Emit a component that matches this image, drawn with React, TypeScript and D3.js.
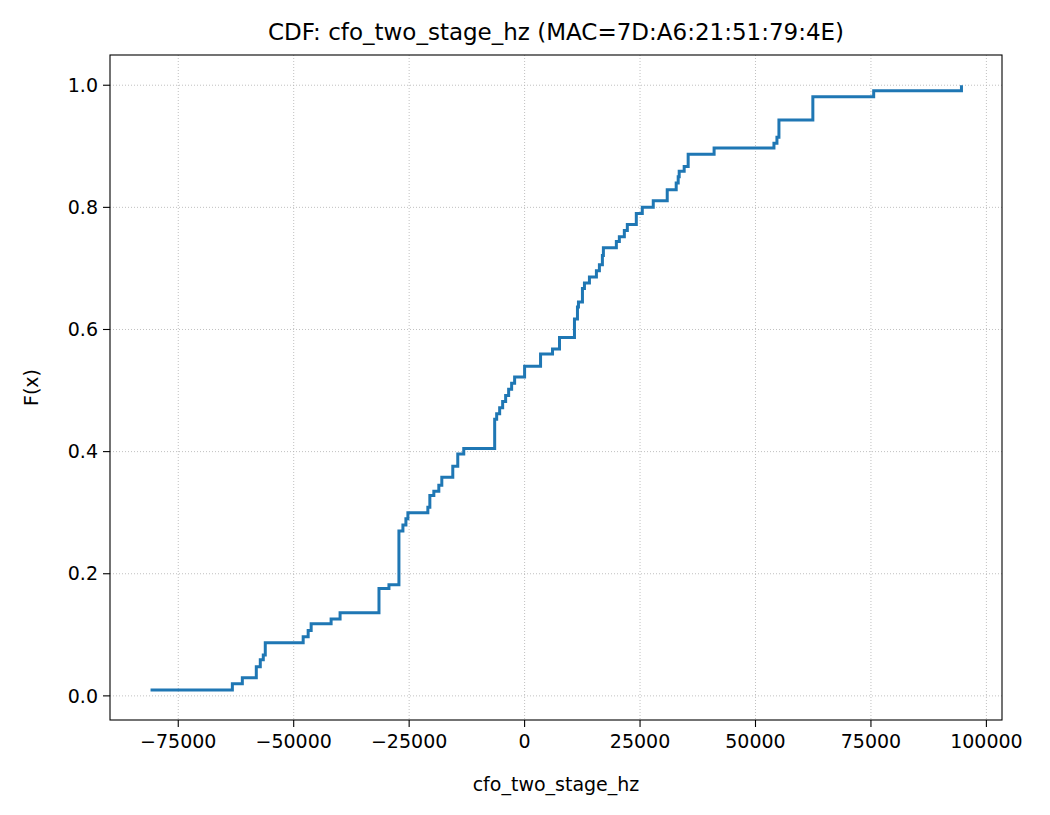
import * as d3 from "d3";

const xs = [-81000, -63283, -61123, -58099, -57235, -56587, -56156, -47948, -46868, -46220, -41900, -39957, -31533, -29374,
  -27214, -26350, -25702, -25270, -20950, -20518, -19654, -18575, -17927, -15551, -14471, -13175,
  -6479, -6048, -5400, -4752, -4104, -3456, -2808, -2160, 0, 3456, 6048, 7559,
  10799, 11447, 11663, 12527, 12959, 14039, 15551, 16199, 16847, 17063, 19870, 20518, 21598, 22246, 24190, 25486,
  27862, 30886, 32829, 33261, 33477, 34557, 35421, 41037, 53996, 54644, 55076, 62419, 75594, 94601];
const fs = [0.0095, 0.0197, 0.0296, 0.0476, 0.059, 0.067, 0.087, 0.097, 0.107, 0.118, 0.126, 0.136, 0.176, 0.182,
  0.27, 0.28, 0.29, 0.30, 0.309, 0.328, 0.335, 0.345, 0.358, 0.376, 0.396, 0.405,
  0.453, 0.462, 0.472, 0.482, 0.492, 0.502, 0.512, 0.522, 0.540, 0.560, 0.568, 0.587,
  0.617, 0.637, 0.645, 0.667, 0.676, 0.686, 0.696, 0.706, 0.721, 0.734, 0.744, 0.752, 0.762, 0.772, 0.790, 0.800,
  0.811, 0.829, 0.840, 0.850, 0.859, 0.867, 0.887, 0.897, 0.905, 0.915, 0.943, 0.981, 0.991, 1.0];
const xTicks = [-75000, -50000, -25000, 0, 25000, 50000, 75000, 100000];
const yTicks = [0, 0.2, 0.4, 0.6, 0.8, 1.0];

const W = 1050, H = 815;
const m = { left: 110, right: 1002, top: 55, bottom: 720 };
const font = "DejaVu Sans, sans-serif";

export default function App() {
  const x = d3.scaleLinear().domain([-89780, 103380]).range([m.left, m.right]);
  const y = d3.scaleLinear().domain([-0.0395, 1.0495]).range([m.bottom, m.top]);
  const pts = xs.map((v, i) => [v, fs[i]] as [number, number]);
  const line = d3.line<[number, number]>().x(d => x(d[0])).y(d => y(d[1])).curve(d3.curveStepAfter);

  return (
    <svg width={W} height={H} style={{ position: "absolute", left: 0, top: 0 }} fontFamily={font}>
      <rect width={W} height={H} fill="#fff" />
      {xTicks.map(t => (
        <g key={"x" + t}>
          <line x1={x(t)} x2={x(t)} y1={m.top} y2={m.bottom} stroke="#b0b0b0" strokeWidth={0.8} strokeDasharray="1,2" />
          <line x1={x(t)} x2={x(t)} y1={m.bottom} y2={m.bottom + 7} stroke="#000" strokeWidth={1.1} />
          <text x={x(t)} y={m.bottom + 28} textAnchor="middle" fontSize={19}>{t < 0 ? "\u2212" + -t : t}</text>
        </g>
      ))}
      {yTicks.map(t => (
        <g key={"y" + t}>
          <line x1={m.left} x2={m.right} y1={y(t)} y2={y(t)} stroke="#b0b0b0" strokeWidth={0.8} strokeDasharray="1,2" />
          <line x1={m.left - 7} x2={m.left} y1={y(t)} y2={y(t)} stroke="#000" strokeWidth={1.1} />
          <text x={m.left - 12} y={y(t)} dy="0.35em" textAnchor="end" fontSize={19}>{t.toFixed(1)}</text>
        </g>
      ))}
      <path d={line(pts) ?? ""} fill="none" stroke="#1f77b4" strokeWidth={3} />
      <rect x={m.left} y={m.top} width={m.right - m.left} height={m.bottom - m.top} fill="none" stroke="#000" strokeWidth={1.1} />
      <text x={(m.left + m.right) / 2} y={40} textAnchor="middle" fontSize={23}>CDF: cfo_two_stage_hz (MAC=7D:A6:21:51:79:4E)</text>
      <text x={(m.left + m.right) / 2} y={791} textAnchor="middle" fontSize={19}>cfo_two_stage_hz</text>
      <text transform={`translate(38,${(m.top + m.bottom) / 2}) rotate(-90)`} textAnchor="middle" fontSize={19}>F(x)</text>
    </svg>
  );
}
